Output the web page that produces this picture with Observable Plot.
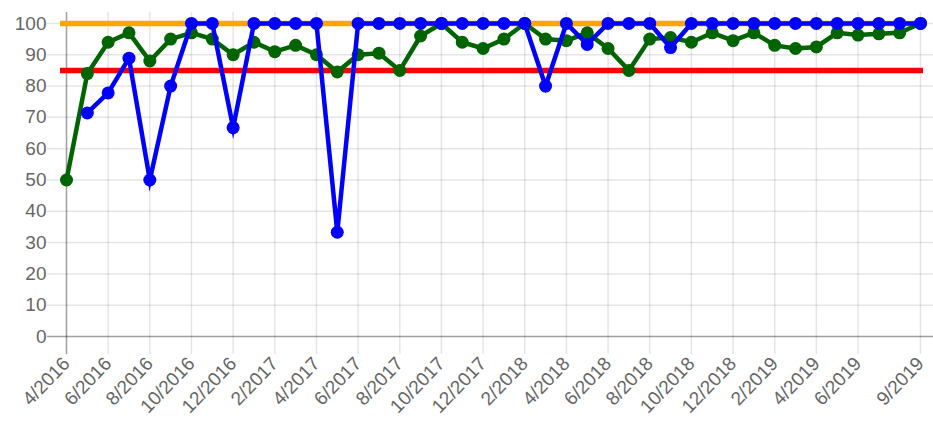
<!DOCTYPE html>
<html><head><meta charset="utf-8">
<script src="https://cdn.jsdelivr.net/npm/d3@7"></script>
<script src="https://cdn.jsdelivr.net/npm/@observablehq/plot@0.6"></script>
<style>html,body{margin:0;padding:0;background:#fff} svg{display:block}</style>
</head><body><div id="chart"></div>
<script>
const months = ["4/2016","5/2016","6/2016","7/2016","8/2016","9/2016","10/2016","11/2016","12/2016",
  "1/2017","2/2017","3/2017","4/2017","5/2017","6/2017","7/2017","8/2017","9/2017","10/2017","11/2017","12/2017",
  "1/2018","2/2018","3/2018","4/2018","5/2018","6/2018","7/2018","8/2018","9/2018","10/2018","11/2018","12/2018",
  "1/2019","2/2019","3/2019","4/2019","5/2019","6/2019","7/2019","8/2019","9/2019"];
const tickMonths = ["4/2016","6/2016","8/2016","10/2016","12/2016","2/2017","4/2017","6/2017","8/2017","10/2017",
  "12/2017","2/2018","4/2018","6/2018","8/2018","10/2018","12/2018","2/2019","4/2019","6/2019","9/2019"];
const greenValues = [50,84,94,97,88,95,97,95,90,94,91,93,90,84.5,90,90.5,85,96,100,94,92,95,100,95,94.5,97,92,85,95,95.5,94,97,94.5,97,93,92,92.5,97,96.3,96.7,97,100];
const blueValues = [null,71.4,77.8,88.9,50,80,100,100,66.7,100,100,100,100,33.3,100,100,100,100,100,100,100,100,100,80,100,93.3,100,100,100,92.3,100,100,100,100,100,100,100,100,100,100,100,100];
const targetValue = 100;
const thresholdValue = 85;
const yTicks = [0,10,20,30,40,50,60,70,80,90,100];

const rows = months.map((m, i) => ({month: m, green: greenValues[i], blue: blueValues[i]}));
const grid = {stroke: "#000", strokeOpacity: 0.1, strokeWidth: 1.5};
const axisLine = {stroke: "#000", strokeOpacity: 0.3, strokeWidth: 1.5};

const chart = Plot.plot({
  width: 933, height: 425,
  marginLeft: 66, marginRight: 0, marginTop: 12, marginBottom: 89,
  style: {fontFamily: "'Liberation Sans', Arial, Helvetica, sans-serif", fontSize: "19px", color: "#666", background: "#fff"},
  x: {type: "point", domain: months, range: [66, 920], padding: 0, label: null},
  y: {domain: [0, 103.5], label: null},
  marks: [
    Plot.ruleY(yTicks, {...grid, insetLeft: -19}),
    Plot.ruleX(tickMonths, {...grid, insetBottom: -18}),
    Plot.ruleX([months[0]], {...axisLine, insetBottom: -18}),
    Plot.ruleY([0], {...axisLine, insetLeft: -19}),
    Plot.axisY(yTicks, {tickSize: 0, tickPadding: 20, fontSize: 19, label: null}),
    Plot.axisX(tickMonths, {tickSize: 0, tickPadding: 24, tickRotate: -46, fontSize: 19, label: null}),
    Plot.ruleY([thresholdValue], {x1: () => months[0], x2: () => months[months.length - 1], stroke: "#ff0000", strokeWidth: 5.5, insetLeft: -6, insetRight: -3}),
    Plot.ruleY([targetValue], {x1: () => months[0], x2: () => months[months.length - 1], stroke: "#ffa500", strokeWidth: 5.5, insetLeft: -6, insetRight: -3}),
    Plot.line(rows, {x: "month", y: "green", stroke: "#006400", strokeWidth: 4.5, strokeLinejoin: "miter", strokeMiterlimit: 10}),
    Plot.dot(rows, {x: "month", y: "green", r: 6.5, fill: "#006400"}),
    Plot.line(rows, {x: "month", y: "blue", stroke: "#0000ff", strokeWidth: 4.5, strokeLinejoin: "miter", strokeMiterlimit: 10}),
    Plot.dot(rows, {x: "month", y: "blue", r: 6.5, fill: "#0000ff"})
  ]
});
document.getElementById("chart").appendChild(chart);
</script>
</body></html>
